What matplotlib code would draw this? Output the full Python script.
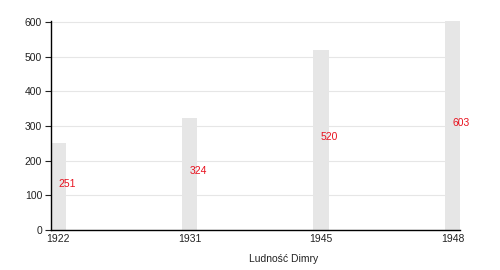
import matplotlib.pyplot as plt

years = ["1922", "1931", "1945", "1948"]
population = [251, 324, 520, 603]

plt.rcParams["font.family"] = ["Liberation Sans", "DejaVu Sans"]

fig = plt.figure(figsize=(5, 2.7), dpi=100)
ax = fig.add_axes([50.5 / 500, 40 / 270, 409.5 / 500, 209 / 270])

pos = range(len(years))
bars = ax.bar(pos, population, width=0.115, color="#e6e6e6", zorder=2)

for x, v in zip(pos, population):
    ax.text(x, v / 2, str(v), color="#e8121f", fontsize=7.5,
            ha="left", va="baseline", zorder=3)

ax.set_xlim(-0.0575, 3.0575)
ax.set_ylim(0, 603)
ax.set_yticks(range(0, 601, 100))
ax.set_xticks(list(pos))
ax.set_xticklabels(years)
ax.tick_params(axis="x", length=0, pad=3, labelsize=7.5, colors="#222222")
ax.tick_params(axis="y", length=4, width=0.8, pad=2, labelsize=7.5, colors="#222222")
ax.yaxis.grid(True, color="#e6e6e6", linewidth=0.8, zorder=0)
ax.set_axisbelow(True)
ax.spines[["top", "right"]].set_visible(False)
for s in ("left", "bottom"):
    ax.spines[s].set_linewidth(1)
    ax.spines[s].set_color("black")

ax.set_xlabel("Ludność Dimry", fontsize=7.5, color="#222222")
ax.xaxis.set_label_coords((284 - 50.5) / 409.5, -0.115)

fig.savefig("out.png", dpi=100)
